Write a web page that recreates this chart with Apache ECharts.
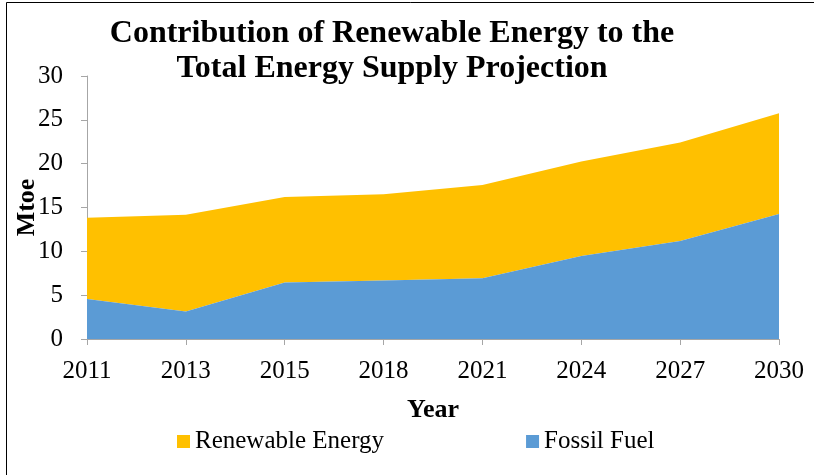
<!DOCTYPE html>
<html>
<head>
<meta charset="utf-8">
<script src="https://cdn.jsdelivr.net/npm/echarts@6/dist/echarts.min.js"></script>
<style>
html,body{margin:0;padding:0;background:#fff;}
#chart{width:814px;height:475px;}
</style>
</head>
<body>
<div id="chart"></div>
<script>
const years = ['2011','2013','2015','2018','2021','2024','2027','2030'];
const fossilFuel = [4.55, 3.14, 6.44, 6.67, 6.94, 9.48, 11.19, 14.26];
const renewableEnergy = [9.29, 11.04, 9.75, 9.83, 10.62, 10.78, 11.23, 11.49];
const yTicks = [0, 5, 10, 15, 20, 25, 30];

const serif = '"Liberation Serif", "Times New Roman", serif';
const chart = echarts.init(document.getElementById('chart'), null, {renderer: 'canvas'});
chart.setOption({
  animation: false,
  backgroundColor: '#fff',
  title: {
    text: 'Contribution of Renewable Energy to the\nTotal Energy Supply Projection',
    left: 387,
    top: 11,
    textAlign: 'center',
    textStyle: {fontFamily: serif, fontWeight: 'bold', fontSize: 32, lineHeight: 35, color: '#000'}
  },
  legend: {
    data: ['Renewable Energy', 'Fossil Fuel'],
    left: 177,
    top: 429,
    padding: 0,
    icon: 'rect',
    itemWidth: 13,
    itemHeight: 13,
    itemGap: 142,
    textStyle: {fontFamily: serif, fontSize: 25, color: '#000'}
  },
  grid: {left: 87, right: 35, top: 76, bottom: 136, containLabel: false, outerBoundsMode: 'none'},
  xAxis: {
    type: 'category',
    data: years,
    boundaryGap: false,
    name: 'Year',
    nameLocation: 'middle',
    nameGap: 58,
    nameMoveOverlap: false,
    nameTextStyle: {fontFamily: serif, fontWeight: 'bold', fontSize: 26, color: '#000'},
    axisLine: {lineStyle: {color: '#a6a6a6', width: 1}},
    axisTick: {alignWithLabel: true, length: 6, lineStyle: {color: '#a6a6a6'}},
    axisLabel: {fontFamily: serif, fontSize: 25, color: '#000', margin: 20}
  },
  yAxis: {
    type: 'value',
    min: yTicks[0],
    max: yTicks[yTicks.length - 1],
    interval: 5,
    name: 'Mtoe',
    nameLocation: 'middle',
    nameRotate: 90,
    nameGap: 47,
    nameMoveOverlap: false,
    nameTextStyle: {fontFamily: serif, fontWeight: 'bold', fontSize: 26, color: '#000'},
    splitLine: {show: false},
    axisLine: {show: true, lineStyle: {color: '#a6a6a6', width: 1}},
    axisTick: {show: true, length: 6, lineStyle: {color: '#a6a6a6'}},
    axisLabel: {fontFamily: serif, fontSize: 25, color: '#000', margin: 24}
  },
  series: [
    {
      name: 'Fossil Fuel',
      type: 'line',
      stack: 'total',
      data: fossilFuel,
      symbol: 'none',
      lineStyle: {width: 0},
      areaStyle: {color: '#5b9bd5', opacity: 1},
      itemStyle: {color: '#5b9bd5'},
      z: 2
    },
    {
      name: 'Renewable Energy',
      type: 'line',
      stack: 'total',
      data: renewableEnergy,
      symbol: 'none',
      lineStyle: {width: 0},
      areaStyle: {color: '#ffc000', opacity: 1},
      itemStyle: {color: '#ffc000'},
      z: 1
    }
  ],
  graphic: [{
    type: 'rect',
    shape: {x: 6.5, y: 2.5, width: 900, height: 600},
    style: {fill: 'none', stroke: '#000', lineWidth: 1},
    silent: true
  }]
});
</script>
</body>
</html>
